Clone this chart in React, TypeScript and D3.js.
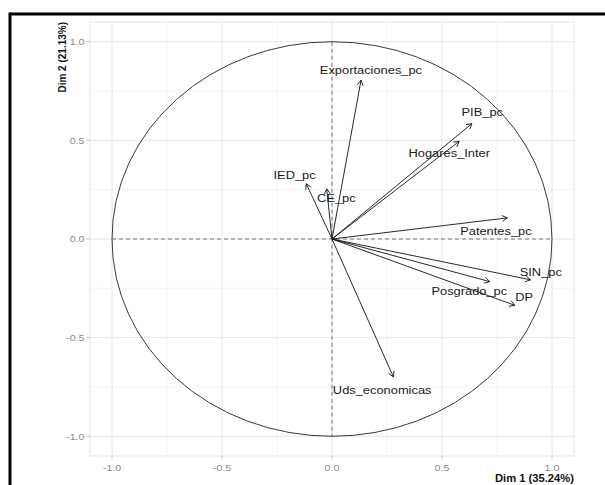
import React from "react";
import * as d3 from "d3";

// Variable names, coordinates on Dim 1 / Dim 2 (arrow tips)
const variables = [
  "Exportaciones_pc",
  "PIB_pc",
  "Hogares_Inter",
  "IED_pc",
  "CE_pc",
  "Patentes_pc",
  "SIN_pc",
  "Posgrado_pc",
  "DP",
  "Uds_economicas",
];
const dim1 = [0.132, 0.636, 0.578, -0.117, -0.024, 0.797, 0.903, 0.717, 0.831, 0.279];
const dim2 = [0.805, 0.585, 0.495, 0.28, 0.254, 0.107, -0.207, -0.216, -0.336, -0.699];
// repelled label anchor positions (data units)
const labelX = [0.177, 0.683, 0.533, -0.17, 0.02, 0.745, 0.949, 0.624, 0.873, 0.228];
const labelY = [0.856, 0.642, 0.435, 0.322, 0.21, 0.042, -0.165, -0.266, -0.292, -0.766];

const majorTicks = [-1.0, -0.5, 0.0, 0.5, 1.0];
const minorTicks = [-0.75, -0.25, 0.25, 0.75];
const tickLabels = ["-1.0", "-0.5", "0.0", "0.5", "1.0"];
const xTitle = "Dim 1 (35.24%)";
const yTitle = "Dim 2 (21.13%)";

const W = 605;
const H = 485;
const SX = 1.12; // horizontal stretch of the image
const PANEL = { left: 90, right: 574, top: 22, bottom: 456 };
const FONT = "'Liberation Sans', Arial, sans-serif";

export default function App() {
  const x = d3.scaleLinear().domain([-1.1, 1.1]).range([PANEL.left, PANEL.right]);
  const y = d3.scaleLinear().domain([-1.1, 1.1]).range([PANEL.bottom, PANEL.top]);

  const arrowHead = (x0: number, y0: number, x1: number, y1: number) => {
    const ang = Math.atan2(y1 - y0, x1 - x0);
    const len = 6;
    const a = (30 * Math.PI) / 180;
    const p1 = [x1 - len * Math.cos(ang - a), y1 - len * Math.sin(ang - a)];
    const p2 = [x1 - len * Math.cos(ang + a), y1 - len * Math.sin(ang + a)];
    return `M${p1[0]},${p1[1]}L${x1},${y1}L${p2[0]},${p2[1]}`;
  };

  const stretchText = (
    tx: number,
    ty: number,
    text: string,
    opts: { size: number; anchor?: string; fill?: string; weight?: string }
  ) => (
    <text
      transform={`translate(${tx},${ty}) scale(${SX},1)`}
      fontSize={opts.size}
      fontFamily={FONT}
      textAnchor={opts.anchor || "middle"}
      fill={opts.fill || "#1a1a1a"}
      fontWeight={opts.weight || "normal"}
    >
      {text}
    </text>
  );

  return (
    <svg
      width={W}
      height={H}
      style={{ position: "absolute", left: 0, top: 0, background: "#fff" }}
    >
      <rect x={0} y={0} width={W} height={H} fill="#fff" />
      {/* panel */}
      <rect
        x={PANEL.left}
        y={PANEL.top}
        width={PANEL.right - PANEL.left}
        height={PANEL.bottom - PANEL.top}
        fill="#fff"
        stroke="#e3e3e3"
        strokeWidth={1}
      />
      {minorTicks.map((t) => (
        <g key={"mn" + t}>
          <line x1={x(t)} x2={x(t)} y1={PANEL.top} y2={PANEL.bottom} stroke="#f2f2f2" strokeWidth={0.8} />
          <line x1={PANEL.left} x2={PANEL.right} y1={y(t)} y2={y(t)} stroke="#f2f2f2" strokeWidth={0.8} />
        </g>
      ))}
      {majorTicks.map((t) => (
        <g key={"mj" + t}>
          <line x1={x(t)} x2={x(t)} y1={PANEL.top} y2={PANEL.bottom} stroke="#e6e6e6" strokeWidth={1} />
          <line x1={PANEL.left} x2={PANEL.right} y1={y(t)} y2={y(t)} stroke="#e6e6e6" strokeWidth={1} />
        </g>
      ))}
      {/* ticks */}
      {majorTicks.map((t, i) => (
        <g key={"tk" + t}>
          <line x1={x(t)} x2={x(t)} y1={PANEL.bottom} y2={PANEL.bottom + 3.5} stroke="#bbb" strokeWidth={0.8} />
          <line x1={PANEL.left - 4} x2={PANEL.left} y1={y(t)} y2={y(t)} stroke="#bbb" strokeWidth={0.8} />
          {stretchText(x(t), 470.5, tickLabels[i], { size: 9.5, fill: "#8a8a8a" })}
          {stretchText(PANEL.left - 5.5, y(t) + 3.4, tickLabels[i], { size: 9.5, fill: "#8a8a8a", anchor: "end" })}
        </g>
      ))}
      {/* correlation circle */}
      <ellipse
        cx={x(0)}
        cy={y(0)}
        rx={x(1) - x(0)}
        ry={y(0) - y(1)}
        fill="none"
        stroke="#222"
        strokeWidth={0.9}
      />
      {/* dashed axes */}
      <line x1={x(-1)} x2={x(1)} y1={y(0)} y2={y(0)} stroke="#555" strokeWidth={0.8} strokeDasharray="4,3" />
      <line x1={x(0)} x2={x(0)} y1={y(1)} y2={y(-1)} stroke="#555" strokeWidth={0.8} strokeDasharray="4,3" />
      {/* arrows */}
      {variables.map((v, i) => {
        const x0 = x(0), y0 = y(0), x1 = x(dim1[i]), y1 = y(dim2[i]);
        return (
          <g key={v} stroke="#111" strokeWidth={0.9} fill="none">
            <line x1={x0} y1={y0} x2={x1} y2={y1} />
            <path d={arrowHead(x0, y0, x1, y1)} />
          </g>
        );
      })}
      {variables.map((v, i) =>
        <g key={"l" + v}>{stretchText(x(labelX[i]), y(labelY[i]) + 4, v, { size: 11.5, fill: "#1a1a1a" })}</g>
      )}
      {/* axis titles */}
      {stretchText(PANEL.right, 481.5, xTitle, { size: 10, anchor: "end", weight: "bold", fill: "#111" })}
      <text
        transform={`translate(66,${PANEL.top}) rotate(-90) scale(1,${SX})`}
        fontSize={10}
        fontFamily={FONT}
        fontWeight="bold"
        textAnchor="end"
        fill="#111"
      >
        {yTitle}
      </text>
      {/* outer black frame */}
      <line x1={10} x2={W} y1={14} y2={14} stroke="#000" strokeWidth={3} />
      <line x1={10} x2={10} y1={12.5} y2={H} stroke="#000" strokeWidth={3} />
    </svg>
  );
}
